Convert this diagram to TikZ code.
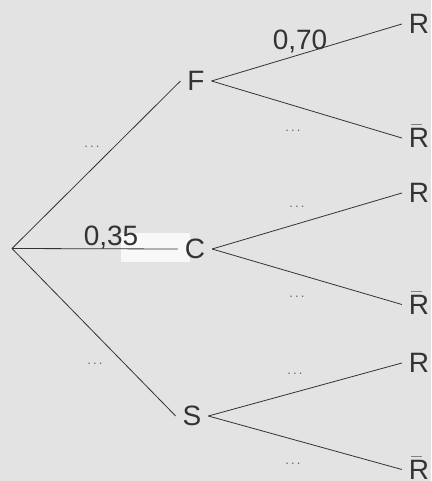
\documentclass[tikz,border=0pt]{standalone}
\usepackage{fontspec}
\setmainfont{Liberation Sans}
\definecolor{fond}{HTML}{E3E3E3}
\definecolor{trait}{HTML}{333333}
\newcommand\Rbarre{\rlap{\raisebox{22.5pt}[0pt][0pt]{\kern2pt\color{gray}\rule{11pt}{.9pt}}}R}

\begin{document}
\begin{tikzpicture}[x=1pt,y=-1pt,
  evt/.style={inner sep=0pt,outer sep=7pt,text=trait,font=\fontsize{28}{30}\selectfont},
  proba/.style={inner sep=0pt,anchor=base,text=trait,font=\fontsize{28}{30}\selectfont},
  vide/.style={inner sep=0pt,text=black!60,font=\fontsize{13}{15}\selectfont},
  branche/.style={draw=trait,line width=.8pt}]
  \def\xR{419}
  \useasboundingbox[fill=fond] (0,0) rectangle (431,481);
  % 高亮块
  \fill[white!75!fond] (121,233) rectangle (190,262);
  % 第一层
  \coordinate (O) at (12,248.5);
  \node[evt] (F) at (196,81) {F};
  \node[evt] (C) at (195,249) {C};
  \node[evt] (S) at (192,416) {S};
  % 第二层
  \node[evt] (FR) at (\xR,24) {R};
  \node[evt] (FN) at (\xR,138) {\Rbarre};
  \node[evt] (CR) at (\xR,193) {R};
  \node[evt] (CN) at (\xR,304.5) {\Rbarre};
  \node[evt] (SR) at (\xR,363) {R};
  \node[evt] (SN) at (\xR,469.5) {\Rbarre};
  \foreach \a in {F,C,S} \draw[branche] (O) -- (\a.west);
  \foreach \a in {F,C,S} {
    \draw[branche] (\a.east) -- (\a R.west);
    \draw[branche] (\a.east) -- (\a N.west);
  }
  % 概率
  \node[proba] (p1) at (111,245) {0,35};
  \node[proba] (p2) at (300,50) {0,70};
  \node[vide] (v1) at (92,147) {.\,.\,.};
  \node[vide] (v2) at (95,364) {.\,.\,.};
  \node[vide] (v3) at (293,131) {.\,.\,.};
  \node[vide] (v4) at (297,207) {.\,.\,.};
  \node[vide] (v5) at (297,297) {.\,.\,.};
  \node[vide] (v6) at (295,374) {.\,.\,.};
  \node[vide] (v7) at (293,464) {.\,.\,.};
\end{tikzpicture}
\end{document}
